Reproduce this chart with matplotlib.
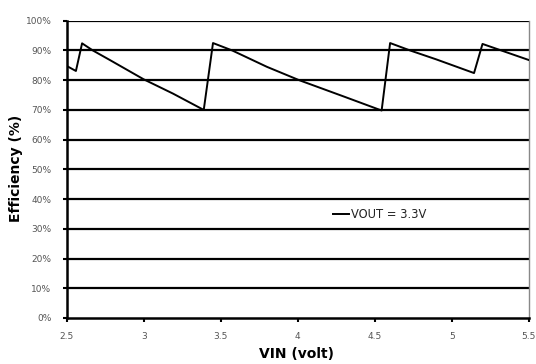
import matplotlib
matplotlib.use("Agg")
import matplotlib.pyplot as plt
from matplotlib.ticker import PercentFormatter

# ─── DATA ──────────────────────────────────────────────────────────────────────
vin = [2.50, 2.56, 2.60, 2.67, 2.78, 3.00, 3.19, 3.39,
       3.45, 3.575, 3.80, 4.01, 4.30, 4.545,
       4.60, 4.73, 4.90, 5.145,
       5.20, 5.50]
eff = [84.8, 83.1, 92.4, 90.0, 86.8, 80.3, 75.5, 70.0,
       92.5, 90.0, 84.5, 80.0, 74.5, 69.8,
       92.5, 90.0, 87.0, 82.4,
       92.2, 86.8]
series_label = "VOUT = 3.3V"
x_ticks = [2.5, 3, 3.5, 4, 4.5, 5, 5.5]
x_tick_labels = ["2.5", "3", "3.5", "4", "4.5", "5", "5.5"]
y_ticks = list(range(0, 101, 10))

# ─── FIGURE ────────────────────────────────────────────────────────────────────
fig = plt.figure(figsize=(5.36, 3.64), dpi=100)
ax = fig.add_axes([0.1244, 0.1264, 0.862, 0.8166])

for y in y_ticks[1:]:
    ax.axhline(y, color="black", linewidth=1.6, zorder=1)

ax.plot(vin, eff, color="black", linewidth=1.4, label=series_label, zorder=3)

ax.set_xlim(2.5, 5.5)
ax.set_ylim(0, 100)
ax.set_xticks(x_ticks)
ax.set_xticklabels(x_tick_labels)
ax.set_yticks(y_ticks)
ax.yaxis.set_major_formatter(PercentFormatter(decimals=0))
ax.tick_params(axis="both", labelsize=6.5, labelcolor="#555555",
               direction="out", length=3, width=1.5, color="black")
ax.tick_params(axis="x", pad=7)
ax.tick_params(axis="y", pad=8)

ax.spines["left"].set_linewidth(1.8)
ax.spines["bottom"].set_linewidth(1.8)
ax.spines["top"].set_visible(False)
ax.spines["right"].set_color("#888888")
ax.spines["right"].set_linewidth(1.0)

ax.set_xlabel("VIN (volt)", fontsize=10, fontweight="bold")
ax.set_ylabel("Efficiency (%)", fontsize=10, fontweight="bold")
ax.xaxis.set_label_coords(0.498, -0.098)
ax.yaxis.set_label_coords(-0.095, 0.505)

leg = ax.legend(loc="center", bbox_to_anchor=(0.678, 0.347), frameon=False,
                fontsize=8.3, handlelength=1.4, handletextpad=0.15)
for t in leg.get_texts():
    t.set_color("#222222")

fig.savefig("out.png", dpi=100)
